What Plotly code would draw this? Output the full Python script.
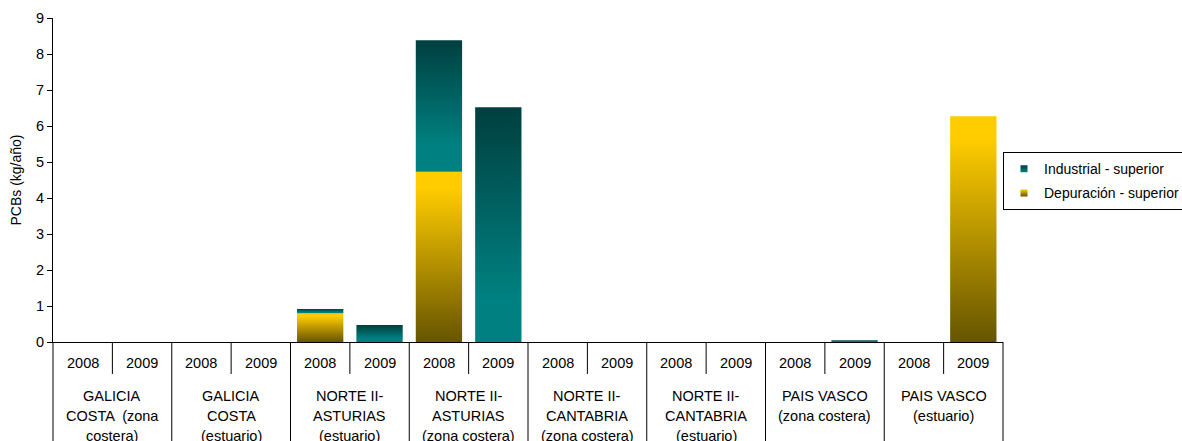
import plotly.graph_objects as go

# Regions (drawn as the lower label row) and years (upper label row)
groups = [
    "GALICIA<br>COSTA  (zona<br>costera)",
    "GALICIA<br>COSTA<br>(estuario)",
    "NORTE II-<br>ASTURIAS<br>(estuario)",
    "NORTE II-<br>ASTURIAS<br>(zona costera)",
    "NORTE II-<br>CANTABRIA<br>(zona costera)",
    "NORTE II-<br>CANTABRIA<br>(estuario)",
    "PAIS VASCO<br>(zona costera)",
    "PAIS VASCO<br>(estuario)",
]
years = ["2008", "2009"]

# PCBs load (kg/año), one value per region/year, in order
depuracion = [0, 0, 0, 0, 0.80, 0, 4.73, 0, 0, 0, 0, 0, 0, 0, 0, 6.27]
industrial = [0, 0, 0, 0, 0.12, 0.47, 3.65, 6.52, 0, 0, 0, 0, 0, 0.05, 0, 0]

y_ticks = list(range(0, 10))

FONT = "Liberation Sans, Arial, sans-serif"
BAR_W = 0.78
TEAL_SCALE = [[0, "#008080"], [0.2, "#008080"], [1, "#003f3f"]]
GOLD_SCALE = [[0, "#665400"], [0.9, "#ffcc00"], [1, "#ffcc00"]]

series = [
    ("Depuración - superior", depuracion, GOLD_SCALE),
    ("Industrial - superior", industrial, TEAL_SCALE),
]

fig = go.Figure()

# Stacked bars, each segment filled with its own vertical gradient
n = len(depuracion)
base = [0.0] * n
for name, values, scale in series:
    for i, v in enumerate(values):
        if v <= 0:
            continue
        x0, x1 = i - BAR_W / 2, i + BAR_W / 2
        y0, y1 = base[i], base[i] + v
        fig.add_trace(go.Scatter(
            x=[x0, x0, x1, x1, x0], y=[y0, y1, y1, y0, y0],
            mode="lines", line=dict(width=0), fill="toself",
            fillgradient=dict(type="vertical", colorscale=scale),
            showlegend=False, hoverinfo="skip",
        ))
        base[i] = y1

# Legend entries with gradient swatches
for name, scale, rank in [("Industrial - superior", TEAL_SCALE, 1),
                          ("Depuración - superior", GOLD_SCALE, 2)]:
    fig.add_trace(go.Scatter(
        x=[None], y=[None], mode="markers", name=name, legendrank=rank,
        legendgroup=name,
        marker=dict(symbol="square", size=7, color=scale[-1][1],
                    line=dict(width=0),
                    gradient=dict(type="vertical", color=scale[0][1])),
    ))

# Category table below the axis: dividers and labels
shapes = []
annotations = []
for k in range(n + 1):
    group_edge = (k % 2 == 0)
    shapes.append(dict(
        type="line", xref="paper", yref="paper", ysizemode="pixel", yanchor=0,
        x0=k / n, x1=k / n, y0=0, y1=-110 if group_edge else -32,
        line=dict(color="#000000", width=1),
    ))
for i in range(n):
    annotations.append(dict(
        x=i, y=0, xref="x", yref="y", yshift=-21, showarrow=False,
        text=years[i % 2], font=dict(family=FONT, size=14.5, color="#000"),
        xanchor="center", yanchor="middle",
    ))
for g, label in enumerate(groups):
    for j, line in enumerate(label.split("<br>")):
        annotations.append(dict(
            x=2 * g + 0.5, y=0, xref="x", yref="y", yshift=-54 - 20 * j,
            showarrow=False, text=line,
            font=dict(family=FONT, size=14.5, color="#000"),
            xanchor="center", yanchor="middle",
        ))

fig.update_layout(
    width=1182, height=441,
    margin=dict(l=53, r=179, t=18, b=99, autoexpand=False),
    paper_bgcolor="white", plot_bgcolor="white",
    font=dict(family=FONT, size=14, color="#000"),
    shapes=shapes, annotations=annotations,
    showlegend=True,
    legend=dict(
        x=1.0, y=0.586, xanchor="left", yanchor="top",
        bordercolor="#000", borderwidth=1, bgcolor="white",
        font=dict(family=FONT, size=14, color="#000"),
        traceorder="grouped", itemwidth=30, tracegroupgap=3,
    ),
)
fig.update_xaxes(
    range=[-0.5, n - 0.5], showticklabels=False, showgrid=False,
    zeroline=False, showline=True, linecolor="#000", linewidth=1,
    ticks="",
)
fig.update_yaxes(
    range=[0, 9], tickvals=y_ticks, showgrid=False, zeroline=False,
    showline=True, linecolor="#000", linewidth=1,
    ticks="outside", ticklen=5, tickcolor="#000",
    tickfont=dict(family=FONT, size=14.5, color="#000"),
    title=dict(text="PCBs (kg/año)", font=dict(family=FONT, size=14, color="#000"),
               standoff=11),
)

fig.write_html("out.html")
